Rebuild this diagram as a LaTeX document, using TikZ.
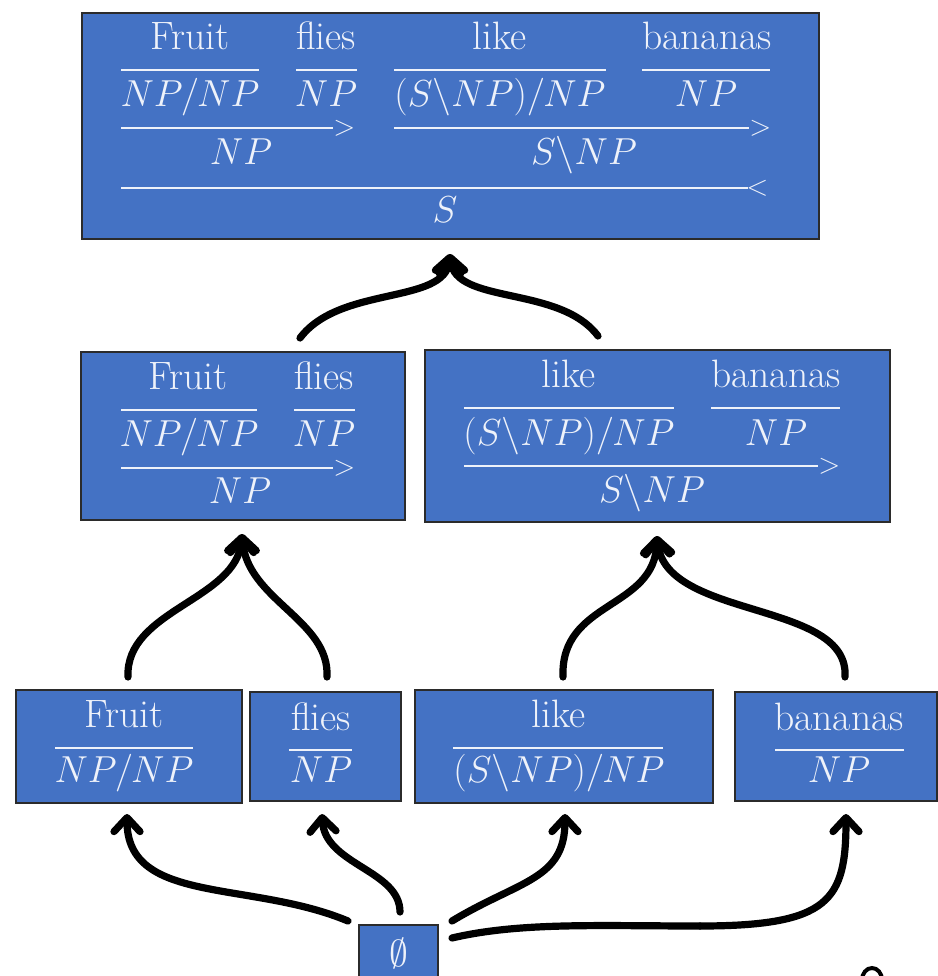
\documentclass[tikz,border=0pt]{standalone}
\usepackage{graphicx}
\usetikzlibrary{arrows.meta,fit}

\definecolor{boxblue}{HTML}{4472C4}
\definecolor{boxedge}{HTML}{2B2B2B}
\definecolor{ink}{HTML}{EEF2FA}

\newcommand\wordsize{\fontsize{19.8}{24}\selectfont}
\newcommand\catsize{\fontsize{20.74}{24}\selectfont}
\newcommand\combsize{\fontsize{14.4}{18}\selectfont}
% categories are set at 20.74pt and shrunk to the size used here
\newcommand\catg[1]{\scalebox{0.906}{$#1$}}

\tikzset{
  stage/.style={draw=boxedge, line width=0.75pt, fill=boxblue, inner sep=0pt},
  word/.style={text=ink, inner sep=0pt, anchor=base, font=\wordsize},
  cat/.style={text=ink, inner sep=0pt, anchor=base, font=\catsize},
  lexrule/.style={draw=ink, line width=1pt},
  combo/.style={text=ink, inner sep=0pt, anchor=west, font=\combsize},
  link/.style={line width=3.6pt, line cap=round,
    -{Straight Barb[length=7pt,width=13pt,round]}}
}

\begin{document}
\begin{tikzpicture}[x=0.5pt,y=-0.5pt]
\useasboundingbox (0,0) rectangle (938,976);

% ---------- full derivation ----------
\node[stage, fit={(82,13) (819,239)}] (full) {};
\node[word] (f-fruit) at (190,49) {Fruit};
\node[word] (f-flies) at (326,49) {flies};
\node[word] (f-like) at (500,49) {like};
\node[word] (f-bananas) at (707,49) {bananas};
\draw[lexrule] (121,70) -- (259,70);
\draw[lexrule] (296,70) -- (357,70);
\draw[lexrule] (394,70) -- (606,70);
\draw[lexrule] (642,70) -- (770,70);
\node[cat] (f-c1) at (190,106) {\catg{NP/NP}};
\node[cat] (f-c2) at (326,106) {\catg{NP}};
\node[cat] (f-c3) at (500,106) {\catg{(S\backslash NP)/NP}};
\node[cat] (f-c4) at (706,106) {\catg{NP}};
\draw[lexrule] (121,128) -- (333,128);
\node[combo] (f-fa1) at (333,128) {$>$};
\draw[lexrule] (394,128) -- (749,128);
\node[combo] (f-fa2) at (749,128) {$>$};
\node[cat] (f-np) at (241,164) {\catg{NP}};
\node[cat] (f-vp) at (584,164) {\catg{S\backslash NP}};
\draw[lexrule] (121,188) -- (748,188);
\node[combo] (f-ba) at (746,188) {$<$};
\node[cat] (f-s) at (445,222) {\catg{S}};

% ---------- subject phrase ----------
\node[stage, fit={(81,352) (405,520)}] (subj) {};
\node[word] (s-fruit) at (188,389) {Fruit};
\node[word] (s-flies) at (324,389) {flies};
\draw[lexrule] (121,410) -- (257,410);
\draw[lexrule] (294,410) -- (355,410);
\node[cat] (s-c1) at (189,446) {\catg{NP/NP}};
\node[cat] (s-c2) at (324,446) {\catg{NP}};
\draw[lexrule] (121,468) -- (333,468);
\node[combo] (s-fa) at (333,468) {$>$};
\node[cat] (s-np) at (240,503) {\catg{NP}};

% ---------- verb phrase ----------
\node[stage, fit={(425,350) (890,522)}] (pred) {};
\node[word] (p-like) at (569,387) {like};
\node[word] (p-bananas) at (776,387) {bananas};
\draw[lexrule] (464,408) -- (674,408);
\draw[lexrule] (711,408) -- (840,408);
\node[cat] (p-c1) at (569,445) {\catg{(S\backslash NP)/NP}};
\node[cat] (p-c2) at (776,445) {\catg{NP}};
\draw[lexrule] (464,466) -- (818,466);
\node[combo] (p-fa) at (818,466) {$>$};
\node[cat] (p-vp) at (652,502) {\catg{S\backslash NP}};

% ---------- lexical items ----------
\node[stage, fit={(16,690) (242,803)}] (lex1) {};
\node[word] (l1-w) at (124,727) {Fruit};
\draw[lexrule] (55,748) -- (193,748);
\node[cat] (l1-c) at (124,782) {\catg{NP/NP}};

\node[stage, fit={(250,692) (401,801)}] (lex2) {};
\node[word] (l2-w) at (321,730) {flies};
\draw[lexrule] (289,750) -- (352,750);
\node[cat] (l2-c) at (321,782) {\catg{NP}};

\node[stage, fit={(415,690) (713,803)}] (lex3) {};
\node[word] (l3-w) at (559,727) {like};
\draw[lexrule] (453,748) -- (663,748);
\node[cat] (l3-c) at (559,782) {\catg{(S\backslash NP)/NP}};

\node[stage, fit={(735,692) (937,801)}] (lex4) {};
\node[word] (l4-w) at (839,730) {bananas};
\draw[lexrule] (775,750) -- (904,750);
\node[cat] (l4-c) at (839,782) {\catg{NP}};

% ---------- empty start ----------
\node[stage, fit={(359,925) (438,990)}] (empty) {};
\node[cat, anchor=center] (e-sym) at (398.5,953) {\catg{\emptyset}};

% ---------- connector ends ----------
\coordinate (full-in) at (450,254);
\coordinate (subj-out) at (300,338);
\coordinate (pred-out) at (598,336);
\coordinate (subj-in) at (242,534);
\coordinate (lex1-out) at (128,677);
\coordinate (lex2-out) at (327,677);
\coordinate (pred-in) at (657,536);
\coordinate (lex3-out) at (563,677);
\coordinate (lex4-out) at (845,677);
\coordinate (lex1-in) at (127,814);
\coordinate (lex2-in) at (322,814);
\coordinate (lex3-in) at (565,814);
\coordinate (lex4-in) at (846,814);
\coordinate (e-out1) at (348,921);
\coordinate (e-out2) at (400,912);
\coordinate (e-out3) at (452,921);
\coordinate (e-out4) at (452,938);
\coordinate (bend4) at (700,926);

% ---------- connectors ----------
\draw[link] (subj-out) .. controls (340,285) and (445,305) .. (full-in);
\draw[link] (pred-out) .. controls (560,285) and (455,305) .. (full-in);
\draw[link] (lex1-out) .. controls (125,610) and (237,600) .. (subj-in);
\draw[link] (lex2-out) .. controls (330,620) and (247,600) .. (subj-in);
\draw[link] (lex3-out) .. controls (560,600) and (655,610) .. (pred-in);
\draw[link] (lex4-out) .. controls (850,600) and (665,620) .. (pred-in);
\draw[link] (e-out1) .. controls (250,880) and (127,905) .. (lex1-in);
\draw[link] (e-out2) .. controls (400,870) and (325,865) .. (lex2-in);
\draw[link] (e-out3) .. controls (520,880) and (565,880) .. (lex3-in);
\draw[link, -] (e-out4) .. controls (520,922) and (600,926) .. (bend4);
\draw[link] (bend4) .. controls (830,926) and (846,900) .. (lex4-in);

% stray mark at the lower right edge
\draw[line width=2pt] (862,980) arc[start angle=180, end angle=360, x radius=10, y radius=12];
\end{tikzpicture}
\end{document}
